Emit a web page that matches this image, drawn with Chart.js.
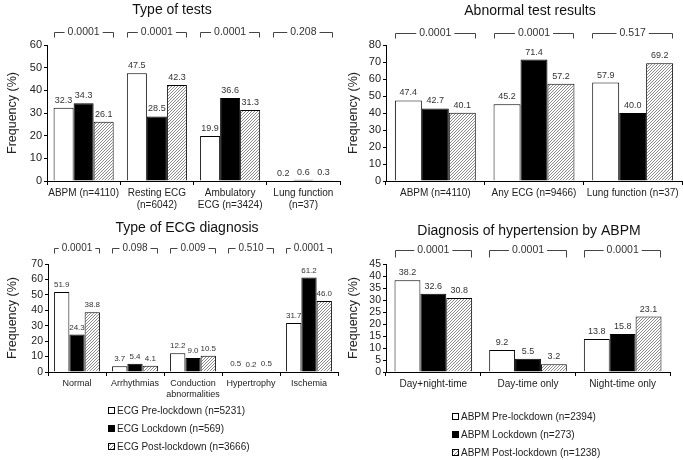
<!DOCTYPE html>
<html lang="en">
<head>
<meta charset="UTF-8">
<title>Tests before, during and after lockdown</title>
<script src="https://cdn.jsdelivr.net/npm/chart.js"></script>
<style>
  body { margin: 0; background: #fff; font-family: "Liberation Sans", Arial, sans-serif; }
  #wrap { position: relative; width: 683px; height: 460px; overflow: hidden; }
  canvas { position: absolute; }
  .legend { position: absolute; font-size: 10px; color: #222; }
  .legend div { height: 18px; line-height: 18px; white-space: nowrap; }
  .sw { display: inline-block; width: 5px; height: 5px; border: 1px solid #000; margin-right: 2px; vertical-align: 0; }
  .sw.w { background: #fff; }
  .sw.b { background: #000; }
  .sw.h { background: repeating-linear-gradient(-45deg, #888 0 1px, #fff 1px 2.5px); }
</style>
<script>
// Type of tests
const testCats = [['ABPM (n=4110)'], ['Resting ECG', '(n=6042)'], ['Ambulatory', 'ECG (n=3424)'], ['Lung function', '(n=37)']];
const testPre = [32.3, 47.5, 19.9, 0.2];
const testLock = [34.3, 28.5, 36.6, 0.6];
const testPost = [26.1, 42.3, 31.3, 0.3];
const testP = ['0.0001', '0.0001', '0.0001', '0.208'];

// Abnormal test results
const abnCats = ['ABPM (n=4110)', 'Any ECG (n=9466)', 'Lung function (n=37)'];
const abnPre = [47.4, 45.2, 57.9];
const abnLock = [42.7, 71.4, 40.0];
const abnPost = [40.1, 57.2, 69.2];
const abnP = ['0.0001', '0.0001', '0.517'];

// Type of ECG diagnosis
const ecgCats = ['Normal', 'Arrhythmias', ['Conduction', 'abnormalities'], 'Hypertrophy', 'Ischemia'];
const ecgPre = [51.9, 3.7, 12.2, 0.5, 31.7];
const ecgLock = [24.3, 5.4, 9.0, 0.2, 61.2];
const ecgPost = [38.8, 4.1, 10.5, 0.5, 46.0];
const ecgP = ['0.0001', '0.098', '0.009', '0.510', '0.0001'];

// Diagnosis of hypertension by ABPM
const htnCats = ['Day+night-time', 'Day-time only', 'Night-time only'];
const htnPre = [38.2, 9.2, 13.8];
const htnLock = [32.6, 5.5, 15.8];
const htnPost = [30.8, 3.2, 23.1];
const htnP = ['0.0001', '0.0001', '0.0001'];

const ecgLegend = ['ECG Pre-lockdown (n=5231)', 'ECG Lockdown (n=569)', 'ECG Post-lockdown (n=3666)'];
const abpmLegend = ['ABPM Pre-lockdown (n=2394)', 'ABPM Lockdown (n=273)', 'ABPM Post-lockdown (n=1238)'];

const FONT = '"Liberation Sans", Arial, sans-serif';

// fine "/" hatching for the post-lockdown bars
function hatch(ctx) {
    const c = document.createElement('canvas');
    c.width = 3; c.height = 3;
    const g = c.getContext('2d');
    g.fillStyle = '#fff';
    g.fillRect(0, 0, 3, 3);
    g.fillStyle = '#8a8a8a';
    g.fillRect(0, 2, 1, 1);
    g.fillRect(1, 1, 1, 1);
    g.fillRect(2, 0, 1, 1);
    return ctx.createPattern(c, 'repeat');
}

// value labels, p-value brackets and panel title
const deco = {
    id: 'deco',
    afterDatasetsDraw(chart, args, o) {
        const ctx = chart.ctx;
        const x = chart.scales.x;
        ctx.save();
        ctx.font = o.valFont + 'px ' + FONT;
        ctx.fillStyle = '#333';
        ctx.textAlign = 'center';
        ctx.textBaseline = 'bottom';
        chart.data.datasets.forEach((ds, di) => {
            chart.getDatasetMeta(di).data.forEach((bar, i) => {
                ctx.fillText(ds.data[i].toFixed(1), bar.x, bar.y - 3);
            });
        });

        const n = chart.data.labels.length;
        const half = x.width / n * o.cat / 2;
        ctx.strokeStyle = '#444';
        ctx.lineWidth = 1;
        ctx.font = o.pFont + 'px ' + FONT;
        ctx.textBaseline = 'middle';
        o.pvals.forEach((p, i) => {
            const cx = x.getPixelForValue(i);
            const l = Math.round(cx - half) + 0.5, r = Math.round(cx + half) - 0.5;
            const w = ctx.measureText(p).width / 2 + 3;
            const y = o.by + 0.5;
            ctx.beginPath();
            ctx.moveTo(l, y + o.tick); ctx.lineTo(l, y); ctx.lineTo(cx - w, y);
            ctx.moveTo(cx + w, y); ctx.lineTo(r, y); ctx.lineTo(r, y + o.tick);
            ctx.stroke();
            ctx.fillText(p, cx, y);
        });

        ctx.font = '14px ' + FONT;
        ctx.fillStyle = '#111';
        ctx.fillText(o.title, o.tx, o.ty);
        ctx.restore();
    }
};

function makeChart(id, cats, pre, lock, post, o) {
    const ctx = document.getElementById(id).getContext('2d');
    return new Chart(ctx, {
        type: 'bar',
        data: {
            labels: cats,
            datasets: [
                { label: 'Pre-lockdown', data: pre, backgroundColor: '#fff', borderColor: '#000', borderWidth: 1 },
                { label: 'Lockdown', data: lock, backgroundColor: '#000', borderColor: '#000', borderWidth: 1 },
                { label: 'Post-lockdown', data: post, backgroundColor: hatch(ctx), borderColor: '#000', borderWidth: 1 }
            ]
        },
        options: {
            responsive: false,
            animation: false,
            layout: { padding: { top: o.top, left: 0, right: o.right, bottom: 0 } },
            datasets: { bar: { categoryPercentage: o.cat, barPercentage: 1 } },
            plugins: {
                legend: { display: false },
                tooltip: { enabled: false },
                deco: { title: o.title, tx: o.tx, ty: o.ty, pvals: o.pvals, by: o.by, tick: o.tick,
                        cat: o.cat, valFont: o.valFont, pFont: o.pFont }
            },
            scales: {
                x: {
                    grid: { display: true, drawOnChartArea: false, offset: true, tickLength: 4, color: '#000' },
                    border: { color: '#000' },
                    ticks: { font: { size: o.xFont }, color: '#222', padding: 2, maxRotation: 0, autoSkip: false },
                    afterFit(s) { s.height = o.xh; }
                },
                y: {
                    min: 0, max: o.max,
                    ticks: { stepSize: o.step, autoSkip: false, font: { size: o.yFont }, color: '#222', padding: 2 },
                    grid: { drawOnChartArea: false, tickLength: 3, color: '#000' },
                    border: { color: '#000' },
                    title: { display: true, text: 'Frequency (%)', font: { size: 12.5 }, color: '#222', padding: { top: 5, bottom: 0 } },
                    afterFit(s) { s.width = o.yw; }
                }
            }
        },
        plugins: [deco]
    });
}

function fillLegend(id, names) {
    const kinds = ['w', 'b', 'h'];
    document.getElementById(id).innerHTML = names
        .map((t, i) => '<div><span class="sw ' + kinds[i] + '"></span>' + t + '</div>').join('');
}

window.onload = function() {
    Chart.defaults.font.family = FONT;
    makeChart('c1', testCats, testPre, testLock, testPost, {
        top: 45, right: 2, yw: 47, xh: 34, cat: 0.82, max: 60, step: 10,
        xFont: 10, yFont: 11, valFont: 9, pFont: 10.5,
        title: 'Type of tests', tx: 172, ty: 10, pvals: testP, by: 32, tick: 5
    });
    makeChart('c2', abnCats, abnPre, abnLock, abnPost, {
        top: 45, right: 1, yw: 45, xh: 34, cat: 0.82, max: 80, step: 10,
        xFont: 10, yFont: 11, valFont: 9, pFont: 10.5,
        title: 'Abnormal test results', tx: 189, ty: 11, pvals: abnP, by: 33, tick: 5
    });
    makeChart('c3', ecgCats, ecgPre, ecgLock, ecgPost, {
        top: 49, right: 4, yw: 48, xh: 38, cat: 0.79, max: 70, step: 10,
        xFont: 9, yFont: 10.5, valFont: 8, pFont: 10,
        title: 'Type of ECG diagnosis', tx: 187, ty: 13, pvals: ecgP, by: 33, tick: 5
    });
    makeChart('c4', htnCats, htnPre, htnLock, htnPost, {
        top: 49, right: 13, yw: 45, xh: 38, cat: 0.82, max: 45, step: 5,
        xFont: 10, yFont: 10.5, valFont: 9, pFont: 10.5,
        title: 'Diagnosis of hypertension by ABPM', tx: 188, ty: 16, pvals: htnP, by: 35, tick: 7
    });
    fillLegend('lg1', ecgLegend);
    fillLegend('lg2', abpmLegend);
};
</script>
</head>
<body>
<div id="wrap">
    <canvas id="c1" width="342" height="215" style="left:0;top:0"></canvas>
    <canvas id="c2" width="342" height="215" style="left:341px;top:0"></canvas>
    <canvas id="c3" width="342" height="195" style="left:0;top:215px"></canvas>
    <canvas id="c4" width="342" height="195" style="left:341px;top:215px"></canvas>
    <div class="legend" id="lg1" style="left:108px;top:402px"></div>
    <div class="legend" id="lg2" style="left:452px;top:408px"></div>
</div>
</body>
</html>
